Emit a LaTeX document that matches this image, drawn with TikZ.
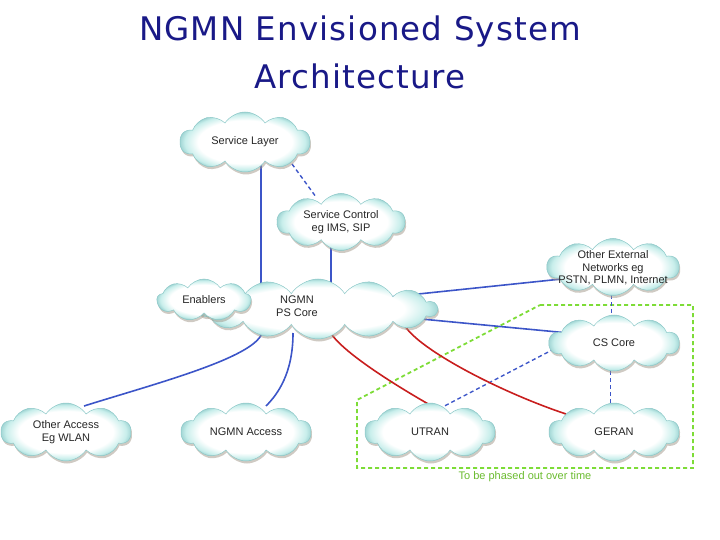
\documentclass[tikz,border=0pt]{standalone}
\usepackage{fontspec}
\setmainfont{Liberation Sans}
\newfontfamily\titlefont[LetterSpace=3.5]{DejaVu Sans}
\usetikzlibrary{shapes.symbols,shadows,calc}
\definecolor{titlec}{RGB}{25,25,135}
\definecolor{cloudrim}{RGB}{200,238,235}
\definecolor{cloudedge}{RGB}{140,200,200}
\definecolor{shadowc}{RGB}{160,150,135}
\definecolor{lineblue}{RGB}{60,85,200}
\definecolor{linered}{RGB}{200,30,30}
\definecolor{boxgreen}{RGB}{125,220,55}
\pgfdeclareradialshading{cloudshade}{\pgfpoint{0bp}{0bp}}{color(0bp)=(white); color(18bp)=(white); color(23bp)=(cloudrim); color(26bp)=(cloudedge); color(50bp)=(cloudedge)}
\pgfdeclarelayer{bg}
\pgfsetlayers{bg,main}
\newcommand{\cloudfont}{\fontsize{11}{12.5}\selectfont}
\tikzset{
  cl/.style={cloud, cloud puffs=10, cloud puff arc=115, cloud ignores aspect,
    draw=cloudedge, line width=0.5pt, shade, shading=cloudshade,
    drop shadow={shadow xshift=1pt, shadow yshift=-2.5pt, fill=shadowc, opacity=0.5},
    align=center, font=\cloudfont, inner sep=0pt, text=black!85},
  txt/.style={align=center, font=\cloudfont, text=black!85, inner sep=0pt},
  bl/.style={draw=lineblue, line width=1.6pt},
  bld/.style={draw=lineblue, line width=1.4pt, dash pattern=on 4pt off 3pt},
  bldt/.style={draw=lineblue, line width=0.9pt, dash pattern=on 4pt off 3pt},
  rd/.style={draw=linered, line width=1.6pt},
  gbox/.style={draw=boxgreen, line width=1.8pt, dash pattern=on 4pt off 3pt},
  ttl/.style={font=\titlefont\fontsize{32.5}{38}\selectfont, text=titlec, inner sep=0pt, anchor=base}
}
\begin{document}
\begin{tikzpicture}[x=1pt,y=-1pt]
\useasboundingbox (0,0) rectangle (720,540);
% title
\node[ttl] (t1) at (360,41) {NGMN Envisioned System};
\node[ttl] (t2) at (360,89) {Architecture};
% clouds
\node[cl, minimum width=130pt, minimum height=60pt] (sl) at (245,142) {Service Layer};
\node[cl, minimum width=128pt, minimum height=57pt] (sc) at (341,222) {Service Control\\eg IMS, SIP};
\node[cl, minimum width=132pt, minimum height=57pt] (ext) at (613,267) {};
\node[txt, font=\fontsize{11}{12.3}\selectfont] (extt) at (613,268) {Other External\\Networks eg\\PSTN, PLMN, Internet};
\node[cl, cloud puffs=14, minimum width=238pt, minimum height=60pt] (psc) at (318,309) {};
\node[txt] (pst) at (297,306) {NGMN\\PS Core};
\node[cl, cloud puffs=9, minimum width=94pt, minimum height=42pt] (en) at (204,300) {Enablers};
\node[cl, minimum width=130pt, minimum height=56pt] (cs) at (614,343) {CS Core};
\node[cl, minimum width=130pt, minimum height=58pt] (oa) at (66,432) {Other Access\\Eg WLAN};
\node[cl, minimum width=130pt, minimum height=58pt] (na) at (246,432) {NGMN Access};
\node[cl, minimum width=130pt, minimum height=58pt] (ut) at (430,432) {UTRAN};
\node[cl, minimum width=130pt, minimum height=58pt] (ge) at (614,432) {GERAN};
\node[font=\fontsize{11}{12}\selectfont, text=boxgreen!85!black, inner sep=0pt] (lab) at (525,477) {To be phased out over time};
\begin{pgfonlayer}{bg}
% green box
\draw[gbox] (540,305) -- (693,305) -- (693,468) -- (357,468) -- (357,400) -- cycle;
% connectors
\draw[bl] ([xshift=16pt]sl.center) -- ([xshift=16pt]sl.center |- psc.center);
\draw[bld] ([xshift=47pt,yshift=-22pt]sl.center) -- ([xshift=-25pt,yshift=25pt]sc.center);
\draw[bl] ([xshift=-10pt]sc.center) -- ([xshift=-10pt]sc.center |- psc.center);
\draw[bl] ([xshift=62pt,yshift=11pt]psc.center) -- ([xshift=-13pt,yshift=-8pt]ext.center);
\draw[bl] ([xshift=82pt,yshift=-8pt]psc.center) -- ([xshift=-14pt,yshift=7pt]cs.center);
\draw[bldt] ([xshift=-2pt]ext.center) -- ([xshift=-2pt]ext.center |- cs.center);
\draw[bldt] ([xshift=-4pt]cs.center) -- ([xshift=-4pt]cs.center |- ge.center);
\draw[bld] ([xshift=-35pt,yshift=7pt]cs.center) -- ([xshift=1pt,yshift=19pt]ut.center);
\draw[bl] ([xshift=-56pt,yshift=-24pt]psc.center) .. controls +(-8,25) and +(70,-22) .. ([xshift=18pt,yshift=26pt]oa.center);
\draw[bl] ([xshift=-25pt,yshift=-24pt]psc.center) .. controls +(0,40) and +(12,-12) .. ([xshift=20pt,yshift=26pt]na.center);
\draw[rd] ([xshift=12pt,yshift=-23pt]psc.center) .. controls +(12,20) and +(-35,-20) .. ([xshift=0pt,yshift=27pt]ut.center);
\draw[rd] ([xshift=87pt,yshift=-17pt]psc.center) .. controls +(15,24) and +(-66,-22) .. ([xshift=-48pt,yshift=18pt]ge.center);
\end{pgfonlayer}
\end{tikzpicture}
\end{document}
